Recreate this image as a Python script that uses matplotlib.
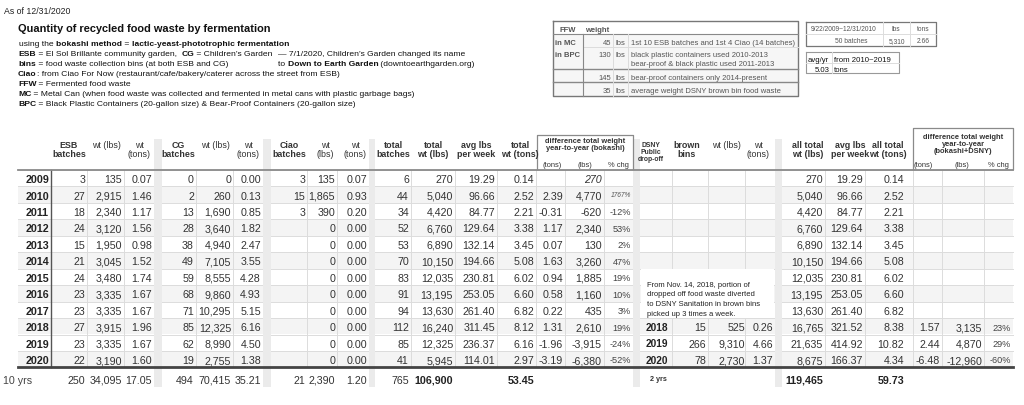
import matplotlib
matplotlib.use("Agg")
import matplotlib.pyplot as plt

plt.rcParams['font.family'] = ['Liberation Sans', 'DejaVu Sans']

# ---- data ----
years = [2009, 2010, 2011, 2012, 2013, 2014, 2015, 2016, 2017, 2018, 2019, 2020]
esb_batches = [3, 27, 18, 24, 15, 21, 24, 23, 23, 27, 23, 22]
esb_lbs = [135, 2915, 2340, 3120, 1950, 3045, 3480, 3335, 3335, 3915, 3335, 3190]
esb_tons = [0.07, 1.46, 1.17, 1.56, 0.98, 1.52, 1.74, 1.67, 1.67, 1.96, 1.67, 1.60]
cg_batches = [0, 2, 13, 28, 38, 49, 59, 68, 71, 85, 62, 19]
cg_lbs = [0, 260, 1690, 3640, 4940, 7105, 8555, 9860, 10295, 12325, 8990, 2755]
cg_tons = [0.00, 0.13, 0.85, 1.82, 2.47, 3.55, 4.28, 4.93, 5.15, 6.16, 4.50, 1.38]
ciao_batches = [3, 15, 3, None, None, None, None, None, None, None, None, None]
ciao_lbs = [135, 1865, 390, 0, 0, 0, 0, 0, 0, 0, 0, 0]
ciao_tons = [0.07, 0.93, 0.20, 0, 0, 0, 0, 0, 0, 0, 0, 0]
total_batches = [6, 44, 34, 52, 53, 70, 83, 91, 94, 112, 85, 41]
total_lbs = [270, 5040, 4420, 6760, 6890, 10150, 12035, 13195, 13630, 16240, 12325, 5945]
avg_week = [19.29, 96.66, 84.77, 129.64, 132.14, 194.66, 230.81, 253.05, 261.40, 311.45, 236.37, 114.01]
total_tons = [0.14, 2.52, 2.21, 3.38, 3.45, 5.08, 6.02, 6.60, 6.82, 8.12, 6.16, 2.97]
diff_tons = [None, 2.39, -0.31, 1.17, 0.07, 1.63, 0.94, 0.58, 0.22, 1.31, -1.96, -3.19]
diff_lbs = [270, 4770, -620, 2340, 130, 3260, 1885, 1160, 435, 2610, -3915, -6380]
diff_pct = [None, 1767, -12, 53, 2, 47, 19, 10, 3, 19, -24, -52]

dsny_years = [2018, 2019, 2020]
dsny_bins = [15, 266, 78]
dsny_lbs = [525, 9310, 2730]
dsny_tons = [0.26, 4.66, 1.37]

all_lbs = [270, 5040, 4420, 6760, 6890, 10150, 12035, 13195, 13630, 16765, 21635, 8675]
all_avg = [19.29, 96.66, 84.77, 129.64, 132.14, 194.66, 230.81, 253.05, 261.40, 321.52, 414.92, 166.37]
all_tons = [0.14, 2.52, 2.21, 3.38, 3.45, 5.08, 6.02, 6.60, 6.82, 8.38, 10.82, 4.34]
all_diff_tons = [1.57, 2.44, -6.48]
all_diff_lbs = [3135, 4870, -12960]
all_diff_pct = [23, 29, -60]

totals_10yr = [250, 34095, 17.05, 494, 70415, 35.21, 21, 2390, 1.20, 765]
grand_lbs, grand_tons = 106900, 53.45
grand2_lbs, grand2_tons = 119465, 59.73


def lbs(v):
    return '' if v is None else f'{v:,}'


def tons(v):
    return '' if v is None else f'{v:.2f}'


fig = plt.figure(figsize=(10.24, 4.06), dpi=100)
ax = fig.add_axes([0, 0, 1, 1])
ax.set_xlim(0, 1024)
ax.set_ylim(406, 0)
ax.axis('off')
fig.canvas.draw()
rend = fig.canvas.get_renderer()

TXT = '#333333'
GRID = '#dcdcdc'
BAND = '#ebebeb'


def put(x, y, s, size, **kw):
    # y is the visual middle of the capitals; put the baseline under it
    return ax.text(x, y + 0.36 * size * 100 / 72, s, fontsize=size, va='baseline', **kw)


def runs(x, y, parts, size=6.1, color='#111111'):
    # one line of text made of regular / bold pieces
    for s, w in parts:
        t = put(x, y, s, size, fontweight=w, ha='left', color=color)
        x += t.get_window_extent(renderer=rend).width
    return x


# ---- notes at the top left ----
put(4, 11, 'As of 12/31/2020', 6.3, color='#222222')
put(18, 28, 'Quantity of recycled food waste by fermentation', 7.9,
    fontweight='bold', color='#111111')
runs(19, 43, [('using the ', 'normal'), ('bokashi method', 'bold'), (' = ', 'normal'),
              ('lactic-yeast-phototrophic fermentation', 'bold')])
xe = runs(18, 53, [('ESB', 'bold'), (' = El Sol Brillante community garden,  ', 'normal'),
                   ('CG', 'bold'), (' = Children\u2019s Garden', 'normal')])
runs(max(189, xe + 6), 53, [('\u2014 7/1/2020, Children\u2019s Garden changed its name', 'normal')])
xe = runs(18, 63, [('bins', 'bold'), (' = food waste collection bins (at both ESB and CG)', 'normal')])
runs(278, 63, [('to ', 'normal'), ('Down to Earth Garden', 'bold'),
               (' (downtoearthgarden.org)', 'normal')])
runs(18, 73, [('Ciao', 'bold'), (': from Ciao For Now (restaurant/cafe/bakery/caterer across the street from ESB)', 'normal')])
runs(18, 83, [('FFW', 'bold'), (' = Fermented food waste', 'normal')])
runs(18, 93, [('MC', 'bold'), (' = Metal Can (when food waste was collected and fermented in metal cans with plastic garbage bags)', 'normal')])
runs(18, 103, [('BPC', 'bold'), (' = Black Plastic Containers (20-gallon size) & Bear-Proof Containers (20-gallon size)', 'normal')])

# ---- FFW weight box ----
G = '#555555'
bx0, bx1 = 553, 798
ax.add_patch(plt.Rectangle((bx0, 35), bx1 - bx0, 62, facecolor='#f6f6f6', edgecolor='none'))
ax.plot([bx0, bx1, bx1, bx0, bx0], [22, 22, 97, 97, 22], color='#777777', lw=1.0)
ax.plot([bx0, bx1], [35, 35], color='#888888', lw=0.8)
ax.plot([583, bx1], [48, 48], color=GRID, lw=0.7)
ax.plot([bx0, bx1], [70, 70], color='#888888', lw=1.0)
ax.plot([bx0, bx1], [83, 83], color='#888888', lw=1.0)
ax.plot([583, 583], [35, 97], color='#888888', lw=0.8)
for xv in (613, 628):
    ax.plot([xv, xv], [35, 97], color=GRID, lw=0.7)
put(560, 29, 'FFW', 5.5, fontweight='bold', color=G)
put(585, 29, 'weight', 5.5, fontweight='bold', color=G)
put(555, 42, 'in MC', 5.5, fontweight='bold', color=G)
put(555, 54, 'in BPC', 5.5, fontweight='bold', color=G)
ffw_wt = [45, 130, 145, 35]
ffw_y = [42, 54, 77, 90]
ffw_desc = [['1st 10 ESB batches and 1st 4 Ciao (14 batches)'],
            ['black plastic containers used 2010-2013', 'bear-proof & black plastic used 2011-2013'],
            ['bear-proof containers only 2014-present'],
            ['average weight DSNY brown bin food waste']]
for w, yv, d in zip(ffw_wt, ffw_y, ffw_desc):
    put(611, yv, str(w), 5.5, color=G, ha='right')
    put(615, yv, 'lbs', 5.5, color=G)
    for k, line in enumerate(d):
        put(631, yv + 9 * k, line, 5.5, color=G)

# ---- first-period box ----
ax.plot([806, 936, 936, 806, 806], [23, 23, 47, 47, 23], color='#777777', lw=0.9)
ax.plot([806, 936], [35, 35], color=GRID, lw=0.7)
for xv in (883, 910):
    ax.plot([xv, xv], [23, 47], color=GRID, lw=0.7)
put(844, 29, '9/22/2009~12/31/2010', 4.8, color=G, ha='center')
put(896, 29, 'lbs', 4.8, color=G, ha='center')
put(923, 29, 'tons', 4.8, color=G, ha='center')
put(851, 41, '50 batches', 4.8, color=G, ha='center')
put(897, 41, '5,310', 4.8, color=G, ha='center')
put(923, 41, '2.66', 4.8, color=G, ha='center')

# ---- avg/yr box ----
ax.plot([806, 899, 899, 806, 806], [53, 53, 74, 74, 53], color='#999999', lw=0.8)
ax.plot([806, 899], [64, 64], color=GRID, lw=0.7)
ax.plot([832, 832], [53, 74], color=GRID, lw=0.7)
put(808, 59, 'avg/yr', 5.6, color='#111111')
put(834, 59, 'from 2010~2019', 5.6, color='#111111')
put(830, 69, '5.03', 5.6, color='#111111', ha='right')
put(834, 69, 'tons', 5.6, color='#111111')

# ---- main table ----
top, pitch = 171, 16.45
n = len(years)
rows_y = [top + (i + 0.5) * pitch for i in range(n)]
bottom = top + n * pitch
left, right = 18, 1013

for i in range(n):
    if i % 2 == 1:
        ax.add_patch(plt.Rectangle((left, top + i * pitch), right - left, pitch,
                                   facecolor='#f4f4f4', edgecolor='none'))
    ax.plot([left, right], [top + i * pitch, top + i * pitch], color=GRID, lw=0.7)

# gray separator bands
for x0, x1 in [(154, 162), (263, 271), (369, 375), (633, 640), (775, 782)]:
    ax.add_patch(plt.Rectangle((x0, 140), x1 - x0, 248, facecolor=BAND, edgecolor='none', zorder=2))

# light cell dividers
for xv in (87, 124, 196, 233, 307, 337, 411, 455, 497, 536, 565, 604, 825, 865, 942, 984):
    ax.plot([xv, xv], [top, bottom], color=GRID, lw=0.7)
for xv in (672, 708, 745):
    ax.plot([xv, xv], [top, top + 6 * pitch], color=GRID, lw=0.7)
    ax.plot([xv, xv], [top + 9 * pitch, bottom], color=GRID, lw=0.7)
ax.plot([51, 51], [top, bottom], color='#555555', lw=1.0)
ax.plot([913, 913], [top, bottom], color=GRID, lw=0.7)

# header rule and bottom rule
ax.plot([left, right], [top, top], color='#8a8a8a', lw=1.3)
ax.plot([left, right], [bottom, bottom], color='#444444', lw=2.0)

# header boxes for the difference columns
ax.plot([537, 537, 633, 633], [170, 136, 136, 170], color='#8a8a8a', lw=0.9)
ax.plot([913, 913, 1013, 1013], [170, 129, 129, 170], color='#8a8a8a', lw=0.9)

HS = 6.4
headers = [(69, 'ESB\nbatches', True), (106, 'wt (lbs)', False), (139, 'wt\n(tons)', False),
           (178, 'CG\nbatches', True), (215, 'wt (lbs)', False), (248, 'wt\n(tons)', False),
           (289, 'Ciao\nbatches', True), (325, 'wt\n(lbs)', False), (355, 'wt\n(tons)', False),
           (393, 'total\nbatches', True), (433, 'total\nwt (lbs)', True), (476, 'avg lbs\nper week', True),
           (520, 'total\nwt (tons)', True), (808, 'all total\nwt (lbs)', True),
           (850, 'avg lbs\nper week', True), (888, 'all total\nwt (tons)', True),
           (687, 'brown\nbins', True), (726, 'wt (lbs)', False), (758, 'wt\n(tons)', False)]
for xc, s, b in headers:
    ax.text(xc, 141, s, fontsize=HS, fontweight='bold' if b else 'normal', color=TXT,
            ha='center', va='top', linespacing=1.05)
ax.text(651, 142, 'DSNY\nPublic\ndrop-off', fontsize=4.9, fontweight='bold', color=TXT,
        ha='center', va='top', linespacing=1.0)
ax.text(585, 145, 'difference total weight\nyear-to-year (bokashi)', fontsize=5.4,
        fontweight='bold', color=TXT, ha='center', va='center', linespacing=1.1)
ax.text(963, 145, 'difference total weight\nyear-to-year\n(bokashi+DSNY)', fontsize=5.4,
        fontweight='bold', color=TXT, ha='center', va='center', linespacing=1.0)
for xc, s in [(552, '(tons)'), (585, '(lbs)'), (618, '% chg'),
              (923, '(tons)'), (962, '(lbs)'), (998, '% chg')]:
    put(xc, 164, s, 5.4, color=TXT, ha='center')

DS = 7.7
main_cols = [
    (85, [str(v) for v in esb_batches]),
    (122, [lbs(v) for v in esb_lbs]),
    (152, [tons(v) for v in esb_tons]),
    (194, [str(v) for v in cg_batches]),
    (231, [lbs(v) for v in cg_lbs]),
    (261, [tons(v) for v in cg_tons]),
    (305, ['' if v is None else str(v) for v in ciao_batches]),
    (335, [lbs(v) for v in ciao_lbs]),
    (367, [tons(v) for v in ciao_tons]),
    (409, [str(v) for v in total_batches]),
    (453, [lbs(v) for v in total_lbs]),
    (495, [f'{v:.2f}' for v in avg_week]),
    (534, [tons(v) for v in total_tons]),
    (563, [tons(v) for v in diff_tons]),
    (823, [lbs(v) for v in all_lbs]),
    (863, [f'{v:.2f}' for v in all_avg]),
    (904, [tons(v) for v in all_tons]),
]
for xr, vals in main_cols:
    for yv, s in zip(rows_y, vals):
        put(xr, yv, s, DS, color=TXT, ha='right', zorder=3)

for i, (yv, v) in enumerate(zip(rows_y, diff_lbs)):
    put(602, yv, lbs(v), DS, color=TXT, ha='right', style='italic' if i == 0 else 'normal')
for i, (yv, v) in enumerate(zip(rows_y, diff_pct)):
    if v is None:
        continue
    if v > 1000:
        put(631, yv - 1, f'{v}%', 4.8, color='#555555', ha='right', style='italic')
    else:
        put(631, yv, f'{v}%', 6.6, color='#444444', ha='right')

for yv, yr in zip(rows_y, years):
    put(49, yv, str(yr), DS, fontweight='bold', color='#222222', ha='right')

# DSNY part
ax.add_patch(plt.Rectangle((641, top + 6 * pitch + 0.5), 133, 3 * pitch - 1,
                           facecolor='white', edgecolor='none', zorder=2.5))
note = ['From Nov. 14, 2018, portion of', 'dropped off food waste diverted',
        'to DSNY Sanitation in brown bins', 'picked up 3 times a week.']
for k, line in enumerate(note):
    put(647, 284 + 9.6 * k, line, 5.5, color='#222222', zorder=3)
for k, yr in enumerate(dsny_years):
    yv = rows_y[years.index(yr)]
    put(646, yv, str(yr), 7.3, fontweight='bold', color='#222222')
    put(706, yv, str(dsny_bins[k]), DS, color=TXT, ha='right')
    put(745, yv, lbs(dsny_lbs[k]), DS, color=TXT, ha='right')
    put(773, yv, tons(dsny_tons[k]), DS, color=TXT, ha='right')
    put(940, yv, tons(all_diff_tons[k]), DS, color=TXT, ha='right')
    put(982, yv, lbs(all_diff_lbs[k]), DS, color=TXT, ha='right')
    put(1011, yv, f'{all_diff_pct[k]}%', 6.6, color='#444444', ha='right')

# totals row
ty = 380
put(3, ty, '10 yrs', DS, color='#444444')
tot_x = [85, 122, 152, 194, 231, 261, 305, 335, 367, 409]
fmt_tot = [str, lbs, tons, str, lbs, tons, str, lbs, tons, str]
for xr, v, f in zip(tot_x, totals_10yr, fmt_tot):
    put(xr, ty, f(v), DS, color=TXT, ha='right', zorder=3)
put(453, ty, lbs(grand_lbs), DS, fontweight='bold', color='#222222', ha='right')
put(534, ty, tons(grand_tons), DS, fontweight='bold', color='#222222', ha='right')
put(650, ty - 2, '2 yrs', 5.2, fontweight='bold', color='#333333')
put(823, ty, lbs(grand2_lbs), DS, fontweight='bold', color='#222222', ha='right')
put(904, ty, tons(grand2_tons), DS, fontweight='bold', color='#222222', ha='right')

fig.savefig('out.png', dpi=100, facecolor='white')
